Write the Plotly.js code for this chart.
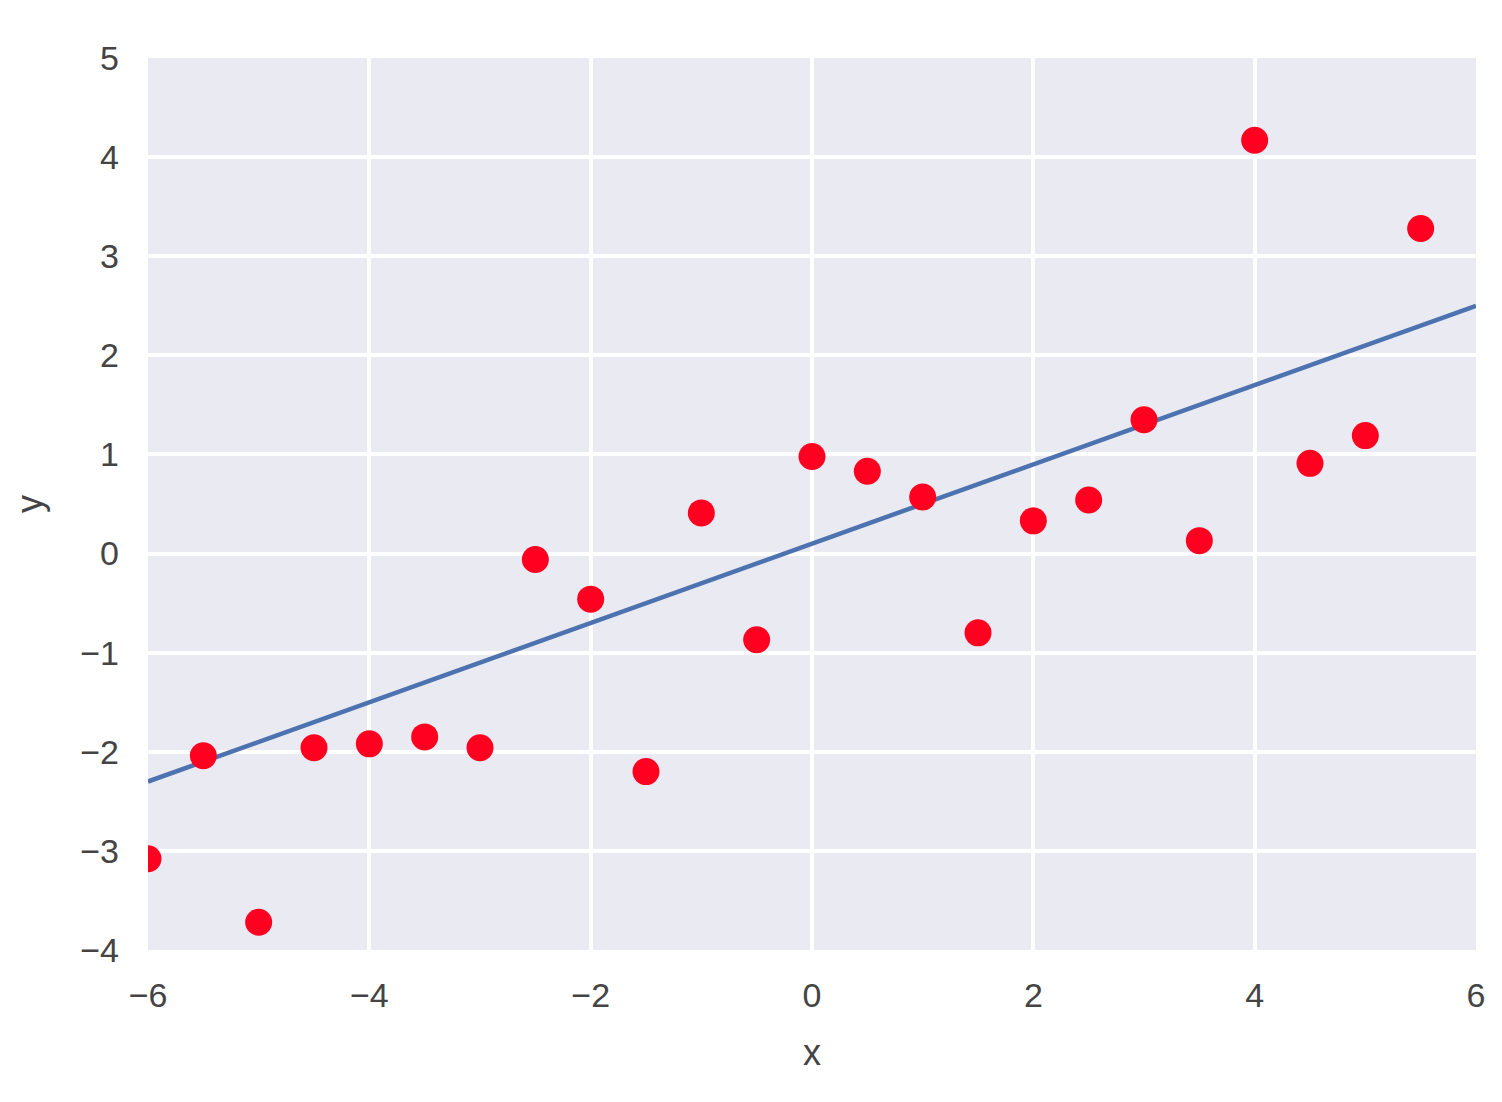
<!DOCTYPE html>
<html><head><meta charset="utf-8">
<script src="https://cdn.plot.ly/plotly-3.0.1.min.js"></script>
<style>html,body{margin:0;padding:0;background:#fff}#chart{width:1502px;height:1102px}</style>
</head><body><div id="chart"></div>
<script>
const xPoints = [-6,-5.5,-5,-4.5,-4,-3.5,-3,-2.5,-2,-1.5,-1,-0.5,0,0.5,1,1.5,2,2.5,3,3.5,4,4.5,5,5.5];
const yPoints = [-3.08,-2.04,-3.72,-1.96,-1.92,-1.85,-1.96,-0.06,-0.46,-2.2,0.41,-0.87,0.98,0.83,0.57,-0.80,0.33,0.54,1.35,0.13,4.17,0.91,1.19,3.28];
const xLine = [-6, 6];
const yLine = [-2.3, 2.5];
const xTicks = [-6,-4,-2,0,2,4,6];
const yTicks = [-4,-3,-2,-1,0,1,2,3,4,5];

const traces = [
  {x: xLine, y: yLine, mode: 'lines', line: {color: '#4c72b0', width: 4.5}, hoverinfo: 'skip', cliponaxis: true},
  {x: xPoints, y: yPoints, mode: 'markers', marker: {color: '#ff0020', size: 27}, cliponaxis: true}
];
const fontFam = '"Liberation Sans", Arial, sans-serif';
const layout = {
  width: 1502, height: 1102,
  margin: {l: 148, r: 26, t: 58, b: 152},
  paper_bgcolor: '#ffffff', plot_bgcolor: '#eaeaf2',
  showlegend: false,
  font: {family: fontFam, color: '#444', size: 34},
  xaxis: {range: [-6, 6], tickvals: xTicks, ticktext: xTicks.map(v => v < 0 ? '\u2212' + Math.abs(v) : String(v)),
    showgrid: true, gridcolor: '#ffffff', gridwidth: 4, zeroline: false, showline: false, ticks: '',
    ticklabelstandoff: 22,
    tickfont: {size: 34, color: '#444'},
    title: {text: 'x', font: {size: 36, color: '#444'}, standoff: 26}},
  yaxis: {range: [-4, 5], tickvals: yTicks, ticktext: yTicks.map(v => v < 0 ? '\u2212' + Math.abs(v) : String(v)),
    showgrid: true, gridcolor: '#ffffff', gridwidth: 4, zeroline: false, showline: false, ticks: '',
    ticklabelstandoff: 28,
    tickfont: {size: 34, color: '#444'},
    title: {text: 'y', font: {size: 36, color: '#444'}, standoff: 26}}
};
Plotly.newPlot('chart', traces, layout, {displayModeBar: false, staticPlot: true});
</script></body></html>
